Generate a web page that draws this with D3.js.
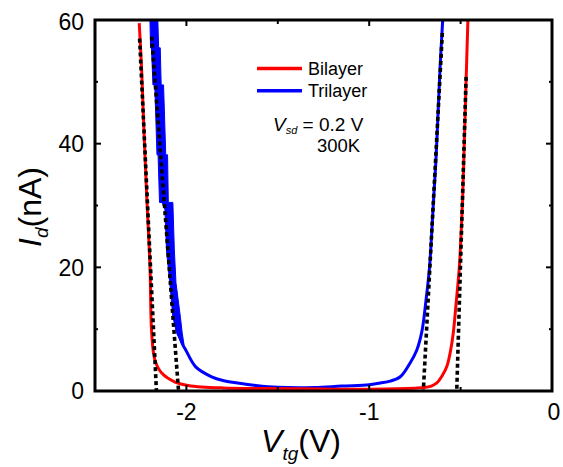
<!DOCTYPE html>
<html>
<head>
<meta charset="utf-8">
<script src="https://cdn.jsdelivr.net/npm/d3@7"></script>
<style>
  html, body { margin: 0; padding: 0; background: #fff; }
  svg { display: block; font-family: "Liberation Sans", Arial, sans-serif; }
</style>
</head>
<body>
<svg id="chart" width="563" height="467"></svg>
<script>
// Transfer curves Id(Vtg) of bilayer and trilayer devices, Vsd = 0.2 V, 300 K

// Bilayer (red) — gate voltage (V) and drain current (nA)
const bilayerV = [-2.258, -2.245, -2.232, -2.216, -2.199, -2.190, -2.172, -2.135, -2.062, -1.990, -1.916,
                  -1.800, -1.600, -1.400, -1.200, -1.000, -0.850, -0.750, -0.700, -0.660, -0.630, -0.600,
                  -0.575, -0.555, -0.540, -0.525, -0.507, -0.498, -0.489, -0.479, -0.469, -0.460, -0.457];
const bilayerI = [59.5, 52, 42, 30.9, 20, 9.4, 5.0, 2.9, 1.45, 0.9, 0.65,
                  0.5, 0.4, 0.35, 0.3, 0.3, 0.35, 0.45, 0.55, 0.8, 1.3, 2.5,
                  4.0, 6.5, 9.4, 14, 20, 25, 31, 41, 51, 60, 62];

// Trilayer (blue) — gate voltage (V) and drain current (nA)
const trilayerV = [-2.181, -2.170, -2.152, -2.135, -2.127, -2.100, -2.090, -2.076, -2.055, -2.040, -2.020,
                   -2.003, -1.949, -1.862, -1.800, -1.720, -1.620, -1.500, -1.300, -1.150, -1.000, -0.940,
                   -0.886, -0.830, -0.777, -0.740, -0.712, -0.690, -0.670, -0.658, -0.648, -0.637, -0.628,
                   -0.612, -0.598, -0.594];
const trilayerI = [62, 55.5, 49.5, 38.2, 30.5, 28.8, 22.8, 17.5, 12, 9.4, 7.5,
                   6.6, 3.9, 2.3, 1.7, 1.3, 0.9, 0.6, 0.55, 0.8, 1.0, 1.3,
                   1.6, 2.3, 4.5, 6.6, 9.6, 14.5, 20, 25.6, 30.9, 36.2, 41.7,
                   52.4, 60, 62];

// Trilayer noise envelope on the steep hole branch: current and left/right gate-voltage edges
const trilayerBandI  = [62, 55.5, 55.5, 49.5, 49.5, 38.2, 38.2, 30.5, 30.5, 22.8, 17.5, 12, 9.4, 7.5];
const trilayerBandLo = [-2.201, -2.196, -2.191, -2.183, -2.173, -2.161, -2.155, -2.147, -2.119, -2.109, -2.091, -2.074, -2.054, -2.025];
const trilayerBandHi = [-2.158, -2.152, -2.143, -2.138, -2.125, -2.113, -2.103, -2.099, -2.074, -2.066, -2.057, -2.033, -2.023, -2.013];

// Linear threshold fits (dotted): each fit is [V at top, V at Id = 0] / [I at top, 0]
const fitV = [[-2.256, -2.164], [-2.190, -2.043], [-0.600, -0.704], [-0.470, -0.521]];
const fitI = [[57.0, 0], [57.3, 0], [57.9, 0], [50.8, 0]];

// Axis ticks
const xMajorTicks = [-2, -1, 0];
const xMinorTicks = [-1.5, -0.5];
const yMajorTicks = [0, 20, 40, 60];
const yMinorTicks = [10, 30, 50];

// Legend
const seriesNames = ["Bilayer", "Trilayer"];
const seriesColors = ["#ff0000", "#0000ff"];

const svg = d3.select("#chart");
const plotLeft = 95, plotRight = 552, plotTop = 20, plotBottom = 391;

const x = d3.scaleLinear().domain([-2.5, 0]).range([plotLeft, plotRight]);
const y = d3.scaleLinear().domain([0, 60]).range([plotBottom, plotTop]);

svg.append("defs").append("clipPath").attr("id", "plotClip")
  .append("rect").attr("x", plotLeft).attr("y", plotTop)
  .attr("width", plotRight - plotLeft).attr("height", plotBottom - plotTop);

const plot = svg.append("g").attr("clip-path", "url(#plotClip)");

const line = d3.line().x(d => x(d[0])).y(d => y(d[1])).curve(d3.curveCatmullRom.alpha(0.5));

// trilayer noise envelope
const band = trilayerBandI.map((c, i) => [c, trilayerBandLo[i], trilayerBandHi[i]]);
plot.append("path")
  .datum(band)
  .attr("fill", seriesColors[1])
  .attr("stroke", seriesColors[1]).attr("stroke-width", 1)
  .attr("d", d3.area().y(d => y(d[0])).x0(d => x(d[1])).x1(d => x(d[2])).curve(d3.curveLinear));

plot.append("path")
  .datum(trilayerV.map((v, i) => [v, trilayerI[i]]))
  .attr("fill", "none").attr("stroke", seriesColors[1]).attr("stroke-width", 3)
  .attr("stroke-linejoin", "round")
  .attr("d", line);

plot.append("path")
  .datum(bilayerV.map((v, i) => [v, bilayerI[i]]))
  .attr("fill", "none").attr("stroke", seriesColors[0]).attr("stroke-width", 3)
  .attr("stroke-linejoin", "round")
  .attr("d", line);

// threshold fits
fitV.forEach((vs, k) => {
  plot.append("path")
    .datum(vs.map((v, i) => [v, fitI[k][i]]))
    .attr("fill", "none").attr("stroke", "#000").attr("stroke-width", 3.6)
    .attr("stroke-dasharray", "4,3")
    .attr("d", d3.line().x(d => x(d[0])).y(d => y(d[1])));
});

// axes with inward ticks on all four sides
const axes = svg.append("g").attr("stroke", "#000").attr("stroke-width", 2);
function tickLines(values, len, orient) {
  values.forEach(v => {
    if (orient === "bottom") axes.append("line").attr("x1", x(v)).attr("x2", x(v)).attr("y1", plotBottom).attr("y2", plotBottom - len);
    if (orient === "top") axes.append("line").attr("x1", x(v)).attr("x2", x(v)).attr("y1", plotTop).attr("y2", plotTop + len);
    if (orient === "left") axes.append("line").attr("y1", y(v)).attr("y2", y(v)).attr("x1", plotLeft).attr("x2", plotLeft + len);
    if (orient === "right") axes.append("line").attr("y1", y(v)).attr("y2", y(v)).attr("x1", plotRight).attr("x2", plotRight - len);
  });
}
const xInner = xMajorTicks.filter(v => v > -2.5 && v < 0);
const yInner = yMajorTicks.filter(v => v > 0 && v < 60);
tickLines(xInner, 6, "bottom");
tickLines(xInner, 6, "top");
tickLines(xMinorTicks, 4, "bottom");
tickLines(xMinorTicks, 4, "top");
tickLines(yInner, 6, "left");
tickLines(yInner, 6, "right");
tickLines(yMinorTicks, 3, "left");
tickLines(yMinorTicks, 3, "right");

svg.append("rect")
  .attr("x", plotLeft).attr("y", plotTop)
  .attr("width", plotRight - plotLeft).attr("height", plotBottom - plotTop)
  .attr("fill", "none").attr("stroke", "#000").attr("stroke-width", 3);

// tick labels
const tickFont = 23;
svg.append("g").selectAll("text").data(xMajorTicks).join("text")
  .attr("x", d => x(d) + (d === 0 ? 2 : 0)).attr("y", 420)
  .attr("text-anchor", "middle").attr("font-size", tickFont)
  .text(d => d === 0 ? "0" : "-" + Math.abs(d));

svg.append("g").selectAll("text").data(yMajorTicks).join("text")
  .attr("x", 84).attr("y", d => y(d) + 8.2 + (d === 60 ? 2 : 0))
  .attr("text-anchor", "end").attr("font-size", tickFont)
  .text(d => d);

// axis titles
const xt = svg.append("text").attr("x", 301).attr("y", 452).attr("text-anchor", "middle").attr("font-size", 32);
xt.append("tspan").attr("font-style", "italic").text("V");
xt.append("tspan").attr("font-style", "italic").attr("font-size", 19).attr("dy", 8).text("tg");
xt.append("tspan").attr("dy", -8).text("(V)");

const yt = svg.append("text").attr("transform", "translate(41,207) rotate(-90)")
  .attr("text-anchor", "middle").attr("font-size", 32);
yt.append("tspan").attr("font-style", "italic").text("I");
yt.append("tspan").attr("font-style", "italic").attr("font-size", 19).attr("dy", 7).text("d");
yt.append("tspan").attr("dy", -7).text("(nA)");

// legend
const legendY = [68.5, 90.8];
seriesNames.forEach((name, i) => {
  svg.append("line").attr("x1", 257).attr("x2", 302).attr("y1", legendY[i]).attr("y2", legendY[i])
    .attr("stroke", seriesColors[i]).attr("stroke-width", 3.5);
  svg.append("text").attr("x", 308).attr("y", legendY[i] + 6.5).attr("font-size", 18).text(name);
});

// measurement conditions
const cond = svg.append("text").attr("x", 273).attr("y", 131).attr("font-size", 19);
cond.append("tspan").attr("font-style", "italic").text("V");
cond.append("tspan").attr("font-style", "italic").attr("font-size", 11).attr("dy", 3).text("sd");
cond.append("tspan").attr("dy", -3).text(" = 0.2 V");
svg.append("text").attr("x", 317).attr("y", 152).attr("font-size", 18.5).text("300K");
</script>
</body>
</html>
